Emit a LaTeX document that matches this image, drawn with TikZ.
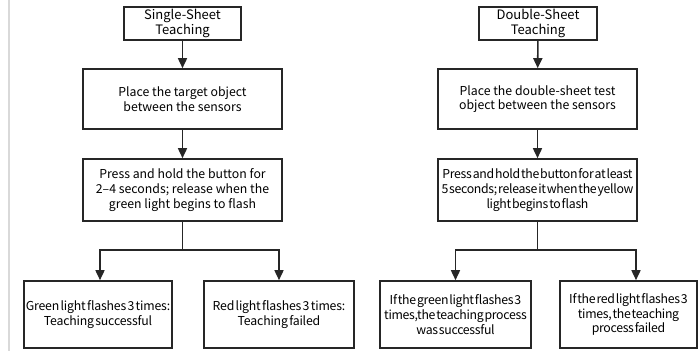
\documentclass[tikz,border=0pt]{standalone}
\usepackage{fontspec}
\setmainfont{Noto Sans CJK SC}
\newfontfamily\tightfont[WordSpace=0.35,LetterSpace=-2.5]{Noto Sans CJK SC}
\newfontfamily\snugfont[WordSpace=0.5,LetterSpace=-1.5]{Noto Sans CJK SC}
\usetikzlibrary{arrows.meta}
\begin{document}
\begin{tikzpicture}[x=1pt,y=-1pt,
  box/.style={draw=black!85,line width=1.6pt,align=center,inner sep=0pt,font=\fontsize{12.3}{14.8}\selectfont},
  titlebox/.style={box,font=\fontsize{13}{14.5}\selectfont},
  tightbox/.style={box,font=\tightfont\fontsize{12.3}{14.8}\selectfont},
  snugbox/.style={box,font=\snugfont\fontsize{12.3}{14.8}\selectfont},
  arr/.style={line width=1.6pt,draw=black!85,-{Triangle[length=10pt,width=9pt]}},
  ln/.style={line width=1.6pt,draw=black!85}]
\useasboundingbox (0,0) rectangle (698,351);
\draw[black!15,line width=1.5pt] (9,0) -- (9,351);
% left column
\node[titlebox,minimum width=117pt,minimum height=33pt] (L1) at (182.5,23.5) {Single-Sheet\\Teaching};
\node[box,minimum width=199pt,minimum height=60pt] (L2) at (182.5,99) {Place the target object\\between the sensors};
\node[box,minimum width=199pt,minimum height=62pt] (L3) at (182.5,190) {Press and hold the button for\\2--4 seconds; release when the\\green light begins to flash};
\node[snugbox,minimum width=148pt,minimum height=67pt] (L4) at (98,314.5) {Green light flashes 3 times:\\Teaching successful};
\node[snugbox,minimum width=150pt,minimum height=67pt] (L5) at (279,314.5) {Red light flashes 3 times:\\Teaching failed};
\coordinate (Lb) at (182.5,250);
\draw[arr] (L1) -- (L2);
\draw[arr] (L2) -- (L3);
\draw[ln] (L3) -- (Lb);
\draw[arr] (Lb) -| ([xshift=2pt]L4.north);
\draw[arr] (Lb) -| (L5.north);
% right column
\node[titlebox,minimum width=118pt,minimum height=33pt] (R1) at (538,23.5) {Double-Sheet\\Teaching};
\node[box,minimum width=199pt,minimum height=60pt] (R2) at (537.5,99) {Place the double-sheet test\\object between the sensors};
\node[tightbox,minimum width=199pt,minimum height=62pt] (R3) at (537.5,190) {Press and hold the button for at least\\5 seconds; release it when the yellow\\light begins to flash};
\node[tightbox,minimum width=151pt,minimum height=67pt] (R4) at (455.5,314.5) {If the green light flashes 3\\times,the teaching process\\was successful};
\node[tightbox,minimum width=137pt,minimum height=67pt] (R5) at (628.5,314.5) {If the red light flashes 3\\times, the teaching\\process failed};
\coordinate (Rb) at (537.5,250);
\draw[arr] (R1) -- (R2);
\draw[arr] (R2) -- (R3);
\draw[ln] (R3) -- (Rb);
\draw[arr] (Rb) -| (R4.north);
\draw[arr] (Rb) -| ([xshift=7.5pt]R5.north);
\end{tikzpicture}
\end{document}
